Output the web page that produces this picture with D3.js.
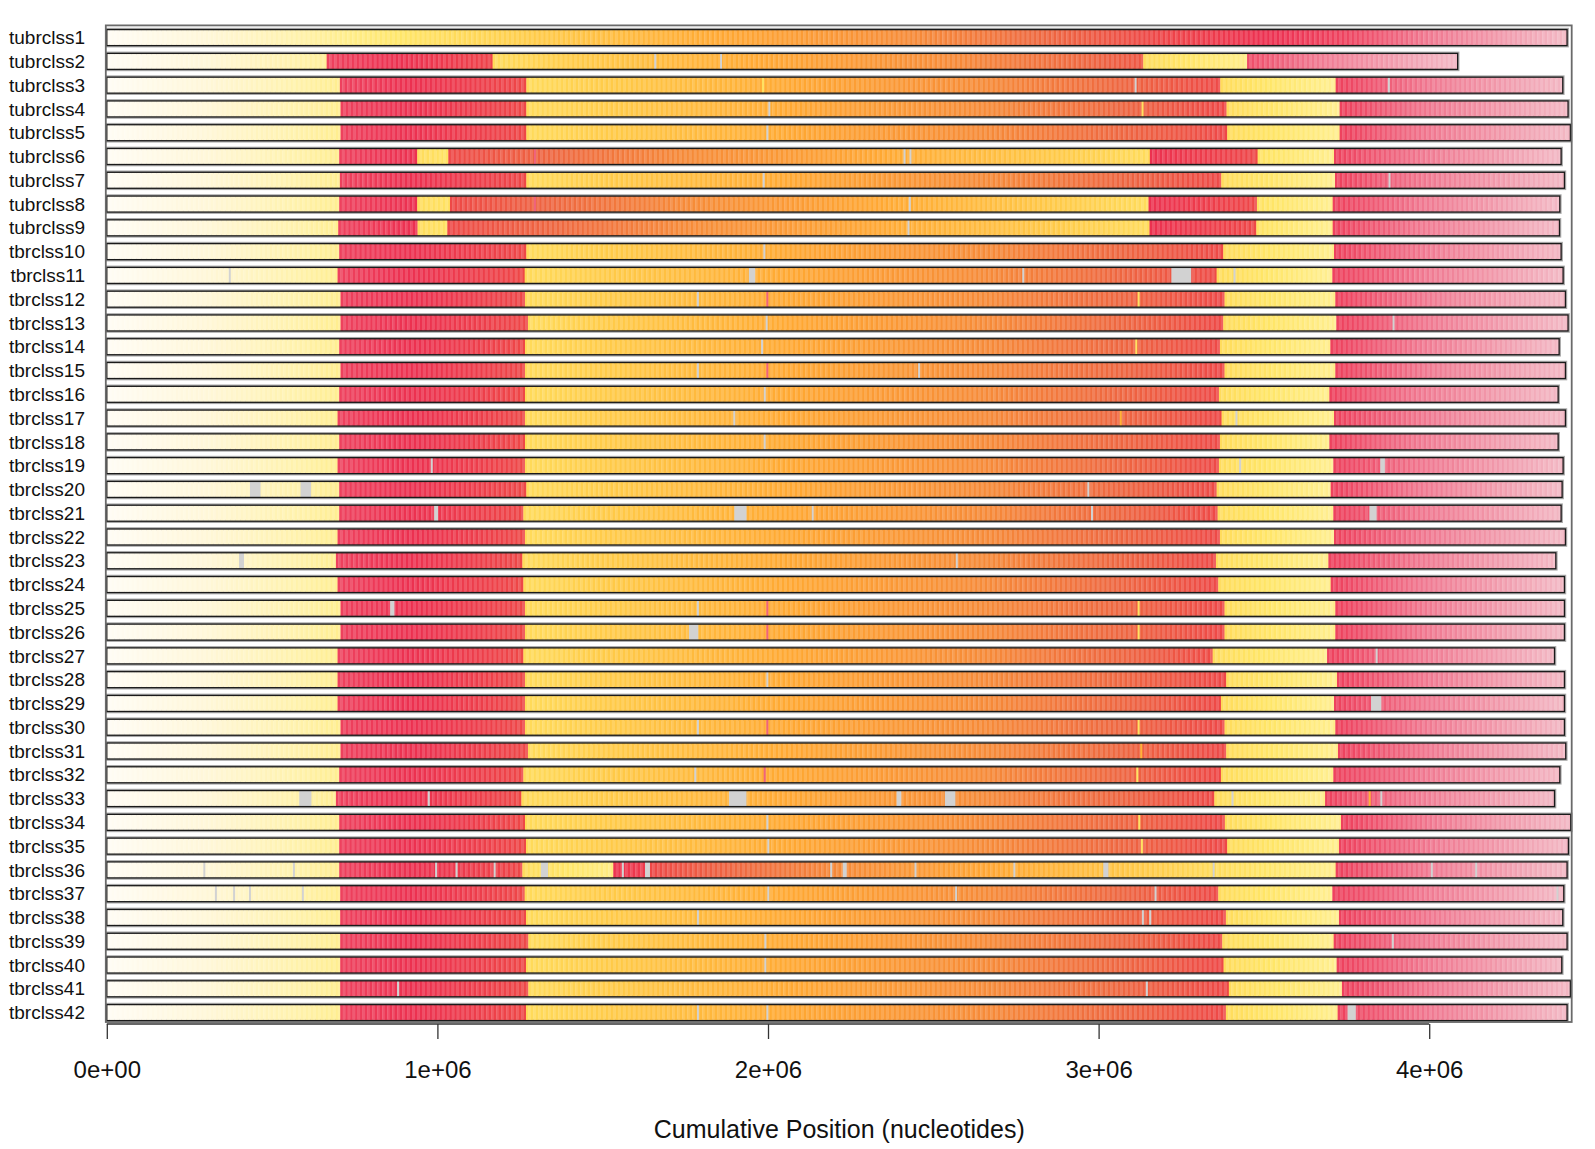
<!DOCTYPE html>
<html>
<head>
<meta charset="utf-8">
<script src="https://cdn.jsdelivr.net/npm/d3@7"></script>
<style>
  body { margin: 0; background: #fff; }
  svg text { font-family: "Liberation Sans", Arial, Helvetica, sans-serif; fill: #111; }
</style>
</head>
<body>
<svg id="chart" width="1595" height="1149"></svg>
<script>
// ---------------------------------------
// Data (positions in Mb)
// ---------------------------------------
const GENOMES = [
  "tubrclss1", "tubrclss2", "tubrclss3", "tubrclss4", "tubrclss5", "tubrclss6", "tubrclss7",
  "tubrclss8", "tubrclss9", "tbrclss10", "tbrclss11", "tbrclss12", "tbrclss13", "tbrclss14",
  "tbrclss15", "tbrclss16", "tbrclss17", "tbrclss18", "tbrclss19", "tbrclss20", "tbrclss21",
  "tbrclss22", "tbrclss23", "tbrclss24", "tbrclss25", "tbrclss26", "tbrclss27", "tbrclss28",
  "tbrclss29", "tbrclss30", "tbrclss31", "tbrclss32", "tbrclss33", "tbrclss34", "tbrclss35",
  "tbrclss36", "tbrclss37", "tbrclss38", "tbrclss39", "tbrclss40", "tbrclss41", "tbrclss42"
];

const X_TICKS = [0, 1e6, 2e6, 3e6, 4e6];

// reference genome, coloured by its own position: [start, end, refStart, refEnd]
const REF_BLOCKS = [[0, 4.417, 0, 4.417]];

// usual layout: ends of blocks A | B | C | D | E
const STANDARD_BREAKS = {
  tubrclss3: [0.705, 1.269, 3.368, 3.717, 4.404],
  tubrclss4: [0.707, 1.269, 3.387, 3.729, 4.420],
  tubrclss5: [0.707, 1.269, 3.389, 3.729, 4.427],
  tubrclss7: [0.705, 1.269, 3.371, 3.715, 4.409],
  tbrclss10: [0.703, 1.269, 3.377, 3.712, 4.399],
  tbrclss11: [0.698, 1.264, 3.357, 3.707, 4.405],
  tbrclss12: [0.707, 1.265, 3.381, 3.716, 4.412],
  tbrclss13: [0.707, 1.274, 3.377, 3.719, 4.420],
  tbrclss14: [0.703, 1.265, 3.367, 3.701, 4.393],
  tbrclss15: [0.707, 1.265, 3.381, 3.716, 4.412],
  tbrclss16: [0.703, 1.265, 3.364, 3.698, 4.390],
  tbrclss17: [0.698, 1.265, 3.372, 3.712, 4.412],
  tbrclss18: [0.703, 1.265, 3.367, 3.698, 4.390],
  tbrclss19: [0.698, 1.265, 3.364, 3.710, 4.405],
  tbrclss20: [0.703, 1.269, 3.357, 3.702, 4.402],
  tbrclss21: [0.703, 1.260, 3.360, 3.710, 4.399],
  tbrclss22: [0.698, 1.265, 3.367, 3.712, 4.412],
  tbrclss23: [0.693, 1.257, 3.355, 3.695, 4.383],
  tbrclss24: [0.698, 1.260, 3.362, 3.702, 4.409],
  tbrclss25: [0.707, 1.265, 3.381, 3.716, 4.409],
  tbrclss26: [0.707, 1.265, 3.381, 3.716, 4.409],
  tbrclss27: [0.698, 1.260, 3.345, 3.691, 4.379],
  tbrclss28: [0.698, 1.265, 3.386, 3.721, 4.409],
  tbrclss29: [0.698, 1.265, 3.370, 3.712, 4.409],
  tbrclss30: [0.707, 1.265, 3.381, 3.716, 4.409],
  tbrclss31: [0.707, 1.274, 3.386, 3.724, 4.413],
  tbrclss32: [0.703, 1.260, 3.370, 3.710, 4.395],
  tbrclss33: [0.693, 1.254, 3.350, 3.685, 4.379],
  tbrclss34: [0.703, 1.265, 3.382, 3.733, 4.428],
  tbrclss35: [0.703, 1.268, 3.389, 3.727, 4.421],
  tbrclss37: [0.706, 1.264, 3.362, 3.707, 4.407],
  tbrclss38: [0.706, 1.268, 3.385, 3.727, 4.404],
  tbrclss39: [0.706, 1.275, 3.374, 3.711, 4.417],
  tbrclss40: [0.706, 1.268, 3.378, 3.720, 4.401],
  tbrclss41: [0.706, 1.275, 3.394, 3.736, 4.427],
  tbrclss42: [0.706, 1.268, 3.385, 3.723, 4.417]
};

// rearranged genomes: [start, end, refStart, refEnd]
const SPECIAL_BLOCKS = {
  tubrclss2: [
    [0, 0.665, 0, 0.665], [0.665, 1.167, 3.72, 3.22], [1.167, 3.135, 1.05, 3.02],
    [3.135, 3.449, 1.04, 0.72], [3.449, 4.086, 3.79, 4.42]
  ],
  tubrclss6: [
    [0, 0.703, 0, 0.703], [0.703, 0.939, 3.72, 3.484], [0.939, 1.033, 1.04, 0.946],
    [1.033, 3.155, 3.16, 1.04], [3.155, 3.481, 3.484, 3.16], [3.481, 3.712, 0.946, 0.70],
    [3.712, 4.399, 3.72, 4.42]
  ],
  tubrclss8: [
    [0, 0.703, 0, 0.703], [0.703, 0.939, 3.72, 3.484], [0.939, 1.038, 1.04, 0.946],
    [1.038, 3.151, 3.16, 1.04], [3.151, 3.479, 3.484, 3.16], [3.479, 3.708, 0.946, 0.70],
    [3.708, 4.395, 3.72, 4.42]
  ],
  tubrclss9: [
    [0, 0.700, 0, 0.700], [0.700, 0.940, 3.72, 3.484], [0.940, 1.030, 1.04, 0.946],
    [1.030, 3.154, 3.16, 1.04], [3.154, 3.477, 3.484, 3.16], [3.477, 3.708, 0.946, 0.70],
    [3.708, 4.394, 3.72, 4.42]
  ],
  tbrclss36: [
    [0, 0.703, 0, 0.703], [0.703, 1.257, 3.72, 3.17], [1.257, 1.532, 1.04, 0.76],
    [1.532, 1.643, 3.45, 3.34], [1.643, 3.348, 3.16, 1.05], [3.348, 3.717, 1.04, 0.70],
    [3.717, 4.417, 3.72, 4.42]
  ]
};

// unaligned stretches (grey): single value = thin line, pair = [start, end]
const GAPS = {
  tubrclss2: [1.659, 1.858],
  tubrclss3: [3.112, 3.878],
  tubrclss4: [2.004],
  tubrclss5: [1.998],
  tubrclss6: [2.413, 2.431],
  tubrclss7: [1.987, 3.880],
  tubrclss8: [2.429],
  tubrclss9: [2.425],
  tbrclss10: [1.989],
  tbrclss11: [0.372, [1.942, 1.961], 2.772, [3.22, 3.28], 3.411],
  tbrclss12: [1.788],
  tbrclss13: [1.996, 3.892],
  tbrclss14: [1.982],
  tbrclss15: [1.788, 2.457],
  tbrclss16: [1.990],
  tbrclss17: [1.898, 3.417],
  tbrclss18: [1.990],
  tbrclss19: [0.983, 3.428, [3.852, 3.866]],
  tbrclss20: [[0.433, 0.465], [0.586, 0.618], 2.969],
  tbrclss21: [[0.990, 1.002], [1.898, 1.935], 2.135, 2.980, [3.819, 3.841]],
  tbrclss23: [[0.400, 0.415], 2.571],
  tbrclss25: [[0.857, 0.870], 1.788],
  tbrclss26: [[1.761, 1.789]],
  tbrclss27: [3.841],
  tbrclss28: [1.998],
  tbrclss29: [[3.824, 3.855]],
  tbrclss30: [1.788],
  tbrclss32: [1.780],
  tbrclss33: [[0.582, 0.619], 0.974, [1.882, 1.935], [2.389, 2.403], [2.535, 2.567], 3.405, 3.855],
  tbrclss34: [1.998],
  tbrclss35: [2.001],
  tbrclss36: [0.295, 0.566, 0.996, 1.058, 1.173, [1.313, 1.335], 1.561, [1.628, 1.643],
              2.191, [2.226, 2.238], 2.446, 2.745, [3.014, 3.030], 3.348, 4.008, 4.142],
  tbrclss37: [0.330, 0.385, 0.433, 0.593, 2.001, 2.569, 3.172, 4.388],
  tbrclss38: [1.788, 3.134, 3.156],
  tbrclss39: [1.992, 3.890],
  tbrclss40: [1.992],
  tbrclss41: [0.881, 3.146],
  tbrclss42: [1.788, 1.998, [3.753, 3.778]]
};

// tiny pieces matching elsewhere on the reference: [position, refPosition]
const FLECKS = {
  tubrclss3: [[1.985, 0.95]],
  tubrclss4: [[3.133, 0.95]],
  tubrclss6: [[1.295, 3.9]],
  tubrclss8: [[1.295, 3.9]],
  tbrclss12: [[1.998, 3.9], [3.121, 0.95]],
  tbrclss14: [[3.114, 0.95]],
  tbrclss15: [[1.998, 3.9]],
  tbrclss17: [[3.067, 1.7]],
  tbrclss25: [[1.998, 3.9], [3.121, 0.95]],
  tbrclss26: [[1.998, 3.9], [3.121, 0.95]],
  tbrclss30: [[1.998, 3.9], [3.121, 0.95]],
  tbrclss31: [[3.129, 1.7]],
  tbrclss32: [[1.990, 3.9], [3.117, 0.95]],
  tbrclss33: [[3.820, 1.7]],
  tbrclss34: [[3.123, 0.95]],
  tbrclss35: [[3.131, 0.95]]
};

// ---------------------------------------
// Scales
// ---------------------------------------
const MB = 1e6;
const WINDOW = 0.0075; // Mb per stripe

const x = d3.scaleLinear().domain([0, 4.431 * MB]).range([106.8, 1571.7]);
const y = d3.scaleBand().domain(GENOMES).range([29.6, 1020.6]).paddingInner(0.327).paddingOuter(0);

const refColor = d3.scaleLinear()
  .domain([0, 0.3, 0.6, 0.75, 0.9, 1.3, 1.85, 2.45, 2.85, 3.2, 3.5, 3.75, 4.0, 4.42].map(d => d * MB))
  .range(["#fffcf4", "#fff7d8", "#fff1a6", "#ffec84", "#ffe566", "#ffcb48", "#ffa832", "#f68a38",
          "#ee6640", "#ee4448", "#ec3050", "#ee4460", "#f07890", "#f2b8c4"])
  .clamp(true);

function blocksFor(name) {
  if (name === GENOMES[0]) return REF_BLOCKS;
  if (SPECIAL_BLOCKS[name]) return SPECIAL_BLOCKS[name];
  const [a, b, c, d, e] = STANDARD_BREAKS[name];
  return [
    [0, a, 0, a],
    [a, b, 3.72, 3.72 - (b - a)],
    [b, c, 1.05, 1.05 + (c - b)],
    [c, d, 1.04, 1.04 - (d - c)],
    [d, e, 3.72, 3.72 + (e - d)]
  ];
}

// split each block into narrow windows -> striped look
function windowsFor(name) {
  const out = [];
  blocksFor(name).forEach(([s, e, r0, r1]) => {
    const n = Math.max(1, Math.round((e - s) / WINDOW));
    for (let k = 0; k < n; k++) {
      const t0 = k / n, t1 = (k + 1) / n;
      const c = refColor((r0 + (r1 - r0) * (t0 + t1) / 2) * MB);
      out.push({
        s: s + (e - s) * t0,
        e: s + (e - s) * t1,
        fill: k % 2 ? d3.interpolateRgb(c, "#ffffff")(0.14) : c
      });
    }
  });
  return out;
}

// ---------------------------------------
// Draw
// ---------------------------------------
const svg = d3.select("#chart");

const rows = svg.selectAll(".genome")
  .data(GENOMES)
  .join("g")
  .attr("class", "genome")
  .attr("transform", d => `translate(0,${y(d)})`);

const bh = y.bandwidth();
const rowEnd = name => d3.max(blocksFor(name), b => b[1]);

// soft grey halo behind the outline
rows.append("rect")
  .attr("x", x(0))
  .attr("y", 0)
  .attr("width", d => x(rowEnd(d) * MB) - x(0))
  .attr("height", bh)
  .attr("fill", "none")
  .attr("stroke", "#a8a8a8")
  .attr("stroke-width", 3.6);

rows.selectAll("rect.win")
  .data(d => windowsFor(d))
  .join("rect")
  .attr("class", "win")
  .attr("x", d => x(d.s * MB))
  .attr("y", 0)
  .attr("width", d => x(d.e * MB) - x(d.s * MB) + 0.3)
  .attr("height", bh)
  .attr("fill", d => d.fill);

rows.selectAll("rect.fleck")
  .data(d => FLECKS[d] || [])
  .join("rect")
  .attr("class", "fleck")
  .attr("x", d => x((d[0] - 0.003) * MB))
  .attr("y", 0)
  .attr("width", x(0.006 * MB) - x(0))
  .attr("height", bh)
  .attr("fill", d => refColor(d[1] * MB));

rows.selectAll("rect.gap")
  .data(d => (GAPS[d] || []).map(g => typeof g === "number" ? [g - 0.003, g + 0.003] : g))
  .join("rect")
  .attr("class", "gap")
  .attr("x", d => x(d[0] * MB))
  .attr("y", 0)
  .attr("width", d => x(d[1] * MB) - x(d[0] * MB))
  .attr("height", bh)
  .attr("fill", "#d2d2d2");

rows.append("rect")
  .attr("x", x(0))
  .attr("y", 0)
  .attr("width", d => x(rowEnd(d) * MB) - x(0))
  .attr("height", bh)
  .attr("fill", "none")
  .attr("stroke", "#1a1a1a")
  .attr("stroke-width", 1.3);

rows.append("text")
  .attr("x", 85)
  .attr("y", bh / 2)
  .attr("dy", "0.35em")
  .attr("text-anchor", "end")
  .style("font-size", "19px")
  .text(d => d);

// plot box
svg.append("rect")
  .attr("x", x(0) - 1)
  .attr("y", 25.4)
  .attr("width", x(4.431 * MB) - x(0) + 1)
  .attr("height", 1022 - 25.4)
  .attr("fill", "none")
  .attr("stroke", "#6a6a6a")
  .attr("stroke-width", 1.8);

// x axis
const axis = svg.append("g")
  .attr("transform", "translate(0,1024)")
  .call(d3.axisBottom(x)
    .tickValues(X_TICKS)
    .tickSize(15)
    .tickPadding(22)
    .tickFormat(d => d === 0 ? "0e+00" : `${d / MB}e+06`));

axis.select(".domain").remove();
axis.append("line")
  .attr("x1", x(X_TICKS[0]))
  .attr("x2", x(X_TICKS[X_TICKS.length - 1]))
  .attr("stroke", "#333")
  .attr("stroke-width", 1.3);
axis.selectAll(".tick line").attr("stroke", "#333").attr("stroke-width", 1.3);
axis.selectAll(".tick text")
  .style("font-size", "24px")
  .style("font-family", "'Liberation Sans', Arial, sans-serif")
  .attr("fill", "#111");

svg.append("text")
  .attr("x", (x(0) + x(4.431 * MB)) / 2)
  .attr("y", 1138)
  .attr("text-anchor", "middle")
  .style("font-size", "25px")
  .text("Cumulative Position (nucleotides)");
</script>
</body>
</html>
